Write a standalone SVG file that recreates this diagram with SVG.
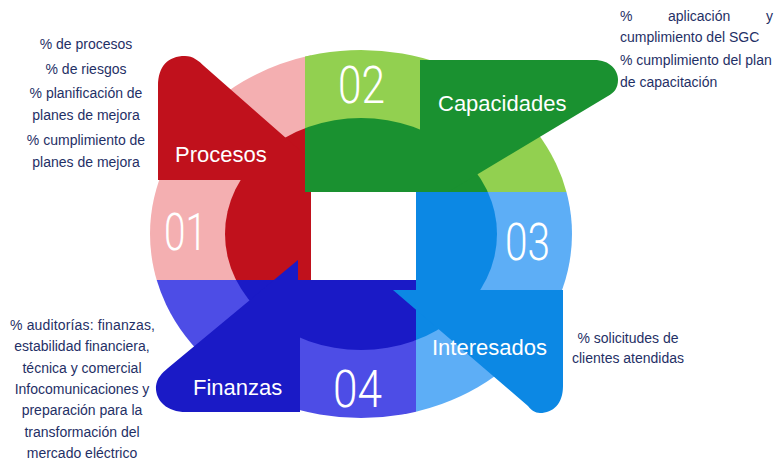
<svg xmlns="http://www.w3.org/2000/svg" width="775" height="464" viewBox="0 0 775 464">
<style>
.num{font-family:Roboto,"Liberation Sans",sans-serif;font-weight:300;font-size:52px;fill:#fff}
.lbl{font-family:"Liberation Sans",Arial,sans-serif;font-size:22px;fill:#fff}
.note{font-family:"Liberation Sans",Arial,sans-serif;font-size:14px;fill:#1F3066}
</style>
<defs>
<clipPath id="c1"><rect x="130" y="30" width="181" height="250"/></clipPath>
<clipPath id="c2"><rect x="305" y="30" width="290" height="162"/></clipPath>
<clipPath id="c3"><rect x="416" y="192" width="180" height="250"/></clipPath>
<clipPath id="c4"><rect x="130" y="280" width="286" height="160"/></clipPath>
<ellipse id="outer" cx="361" cy="234" rx="211" ry="184"/>
<ellipse id="inner" cx="361" cy="234" rx="136" ry="116"/>
</defs>
<rect width="775" height="464" fill="#fff"/>
<g id="q1">
<g clip-path="url(#c1)"><use href="#outer" fill="#F4AFB1"/><use href="#inner" fill="#C0111C"/></g>
<path d="M158,180 L158,86 C158,66 168,56 185,56 C193,56 199,61 204,66 L311,160 L311,180 Z" fill="#C0111C"/>
</g>
<g id="q2">
<g clip-path="url(#c2)"><use href="#outer" fill="#92D050"/><use href="#inner" fill="#1A9130"/></g>
<path d="M420,192 L420,60 L594,60 C610,60 618,70 618,80 C618,88 614,93 608,96 L448,192 Z" fill="#1A9130"/>
</g>
<g id="q4">
<g clip-path="url(#c4)"><use href="#outer" fill="#4D4DE6"/><use href="#inner" fill="#1A1AC6"/></g>
<path d="M298,260 L298,282 L300,282 L300,412 L186,412 C166,412 155,400 156,386 C157,378 162,373 168,368 Z" fill="#1A1AC6"/>
</g>
<g id="q3">
<g clip-path="url(#c3)"><use href="#outer" fill="#5DAEF6"/><use href="#inner" fill="#0C88E4"/></g>
<path d="M393,290 L563,290 L563,386 C563,404 553,413 540,413 C535,413 531,410 528,406 Z" fill="#0C88E4"/>
</g>
<g id="labels">
<text class="num" x="164" y="250" textLength="43" lengthAdjust="spacingAndGlyphs">01</text>
<text class="num" x="338" y="103" textLength="47" lengthAdjust="spacingAndGlyphs">02</text>
<text class="num" x="505" y="260" textLength="45" lengthAdjust="spacingAndGlyphs">03</text>
<text class="num" x="333" y="407" textLength="49" lengthAdjust="spacingAndGlyphs">04</text>
<text class="lbl" x="175" y="162">Procesos</text>
<text class="lbl" x="438" y="111">Capacidades</text>
<text class="lbl" x="432" y="355">Interesados</text>
<text class="lbl" x="193" y="395">Finanzas</text>
</g>
<g id="notes">
<text class="note" text-anchor="middle"><tspan x="86" y="49">% de procesos</tspan><tspan x="86" y="74">% de riesgos</tspan><tspan x="86" y="98">% planificación de</tspan><tspan x="86" y="120">planes de mejora</tspan><tspan x="86" y="145">% cumplimiento de</tspan><tspan x="86" y="167">planes de mejora</tspan></text>
<text class="note"><tspan x="620" y="21">%</tspan><tspan x="668" y="21">aplicación</tspan><tspan x="766" y="21">y</tspan><tspan x="620" y="42">cumplimiento del SGC</tspan><tspan x="620" y="65">% cumplimiento del plan</tspan><tspan x="620" y="87">de capacitación</tspan></text>
<text class="note" text-anchor="middle"><tspan x="628" y="343">% solicitudes de</tspan><tspan x="628" y="363">clientes atendidas</tspan></text>
<text class="note" x="10" y="330" textLength="145" lengthAdjust="spacing">% auditorías: finanzas,</text>
<text class="note" text-anchor="middle"><tspan x="82" y="351">estabilidad financiera,</tspan><tspan x="82" y="373">técnica y comercial</tspan><tspan x="82" y="394">Infocomunicaciones y</tspan><tspan x="82" y="415">preparación para la</tspan><tspan x="82" y="437">transformación del</tspan><tspan x="82" y="458">mercado eléctrico</tspan></text>
</g>
</svg>
